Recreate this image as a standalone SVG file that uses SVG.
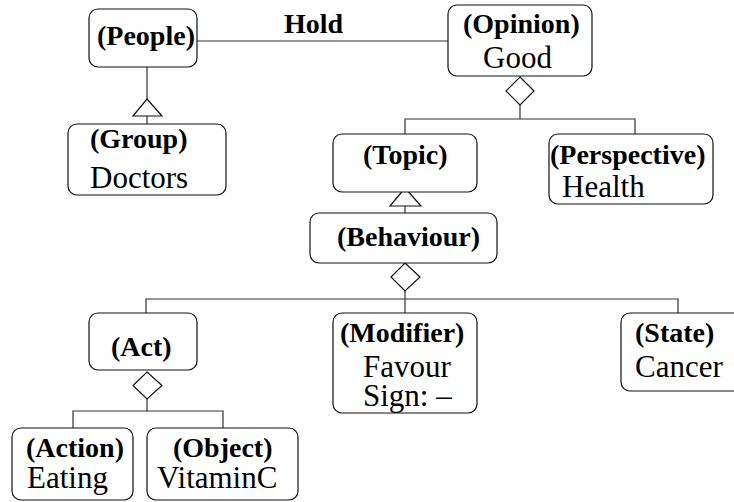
<svg xmlns="http://www.w3.org/2000/svg" width="734" height="502" viewBox="0 0 734 502" font-family="Liberation Serif, Tinos, Times New Roman, serif">
  <style>
    .box { fill: #ffffff; stroke: #111111; stroke-width: 1.2; }
    .line { fill: none; stroke: #333333; stroke-width: 1.2; }
    .head { fill: #ffffff; stroke: #111111; stroke-width: 1.2; }
    .role { font-weight: bold; font-size: 28px; fill: #000000; }
    .val { font-size: 31px; fill: #000000; }
  </style>

  <!-- connectors -->
  <g id="connectors">
    <!-- Hold association -->
    <line class="line" x1="197" y1="41" x2="448" y2="41"/>
    <text class="role" x="284" y="33">Hold</text>
    <!-- People / Group generalisation -->
    <line class="line" x1="147" y1="67" x2="147" y2="99"/>
    <line class="line" x1="147" y1="116" x2="147" y2="124"/>
    <polygon class="head" points="147,99 162,116 133,116"/>
    <!-- Opinion aggregation -->
    <polyline class="line" points="520,105 520,119"/>
    <polyline class="line" points="405,134 405,119 635,119 635,134"/>
    <polygon class="head" points="520,77 534,91 520,105 506,91"/>
    <!-- Topic / Behaviour generalisation -->
    <line class="line" x1="405" y1="206" x2="405" y2="213"/>
    <polygon class="head" points="405,188 421,206 390,206"/>
    <!-- Behaviour aggregation -->
    <polyline class="line" points="405,291 405,313"/>
    <polyline class="line" points="146,313 146,299 678,299 678,313"/>
    <polygon class="head" points="405,263 420,277 405,291 391,277"/>
    <!-- Act aggregation -->
    <polyline class="line" points="147,399 147,411"/>
    <polyline class="line" points="73,428 73,411 223,411 223,428"/>
    <polygon class="head" points="147,372 162,385.5 147,399 133,385.5"/>
  </g>

  <g id="people">
    <rect class="box" x="89" y="9" width="108" height="58" rx="9"/>
    <text class="role" x="97" y="45">(People)</text>
  </g>

  <g id="opinion">
    <rect class="box" x="448" y="5" width="144" height="71" rx="9"/>
    <text class="role" x="463" y="33">(Opinion)</text>
    <text class="val" x="483" y="68">Good</text>
  </g>

  <g id="group">
    <rect class="box" x="68" y="124" width="158" height="71" rx="9"/>
    <text class="role" x="90" y="148">(Group)</text>
    <text class="val" x="90" y="188">Doctors</text>
  </g>

  <g id="topic">
    <rect class="box" x="333" y="134" width="144" height="58" rx="9"/>
    <text class="role" x="363" y="164">(Topic)</text>
  </g>

  <g id="perspective">
    <rect class="box" x="549" y="134" width="164" height="70" rx="9"/>
    <text class="role" x="550" y="164">(Perspective)</text>
    <text class="val" x="562" y="197">Health</text>
  </g>

  <g id="behaviour">
    <rect class="box" x="310" y="213" width="187" height="50" rx="9"/>
    <text class="role" x="337" y="246">(Behaviour)</text>
  </g>

  <g id="act">
    <rect class="box" x="89" y="313" width="108" height="57" rx="9"/>
    <text class="role" x="111" y="356">(Act)</text>
  </g>

  <g id="modifier">
    <rect class="box" x="333" y="313" width="144" height="100" rx="9"/>
    <text class="role" x="340" y="342">(Modifier)</text>
    <text class="val" x="363" y="377">Favour</text>
    <text class="val" x="363" y="406">Sign: –</text>
  </g>

  <g id="state">
    <rect class="box" x="621" y="313" width="130" height="78" rx="9"/>
    <text class="role" x="635" y="342">(State)</text>
    <text class="val" x="635" y="377">Cancer</text>
  </g>

  <g id="action">
    <rect class="box" x="12" y="428" width="121" height="72" rx="9"/>
    <text class="role" x="26" y="457">(Action)</text>
    <text class="val" x="27" y="488">Eating</text>
  </g>

  <g id="object">
    <rect class="box" x="147" y="428" width="151" height="72" rx="9"/>
    <text class="role" x="173" y="457">(Object)</text>
    <text class="val" x="157" y="488">VitaminC</text>
  </g>
</svg>
